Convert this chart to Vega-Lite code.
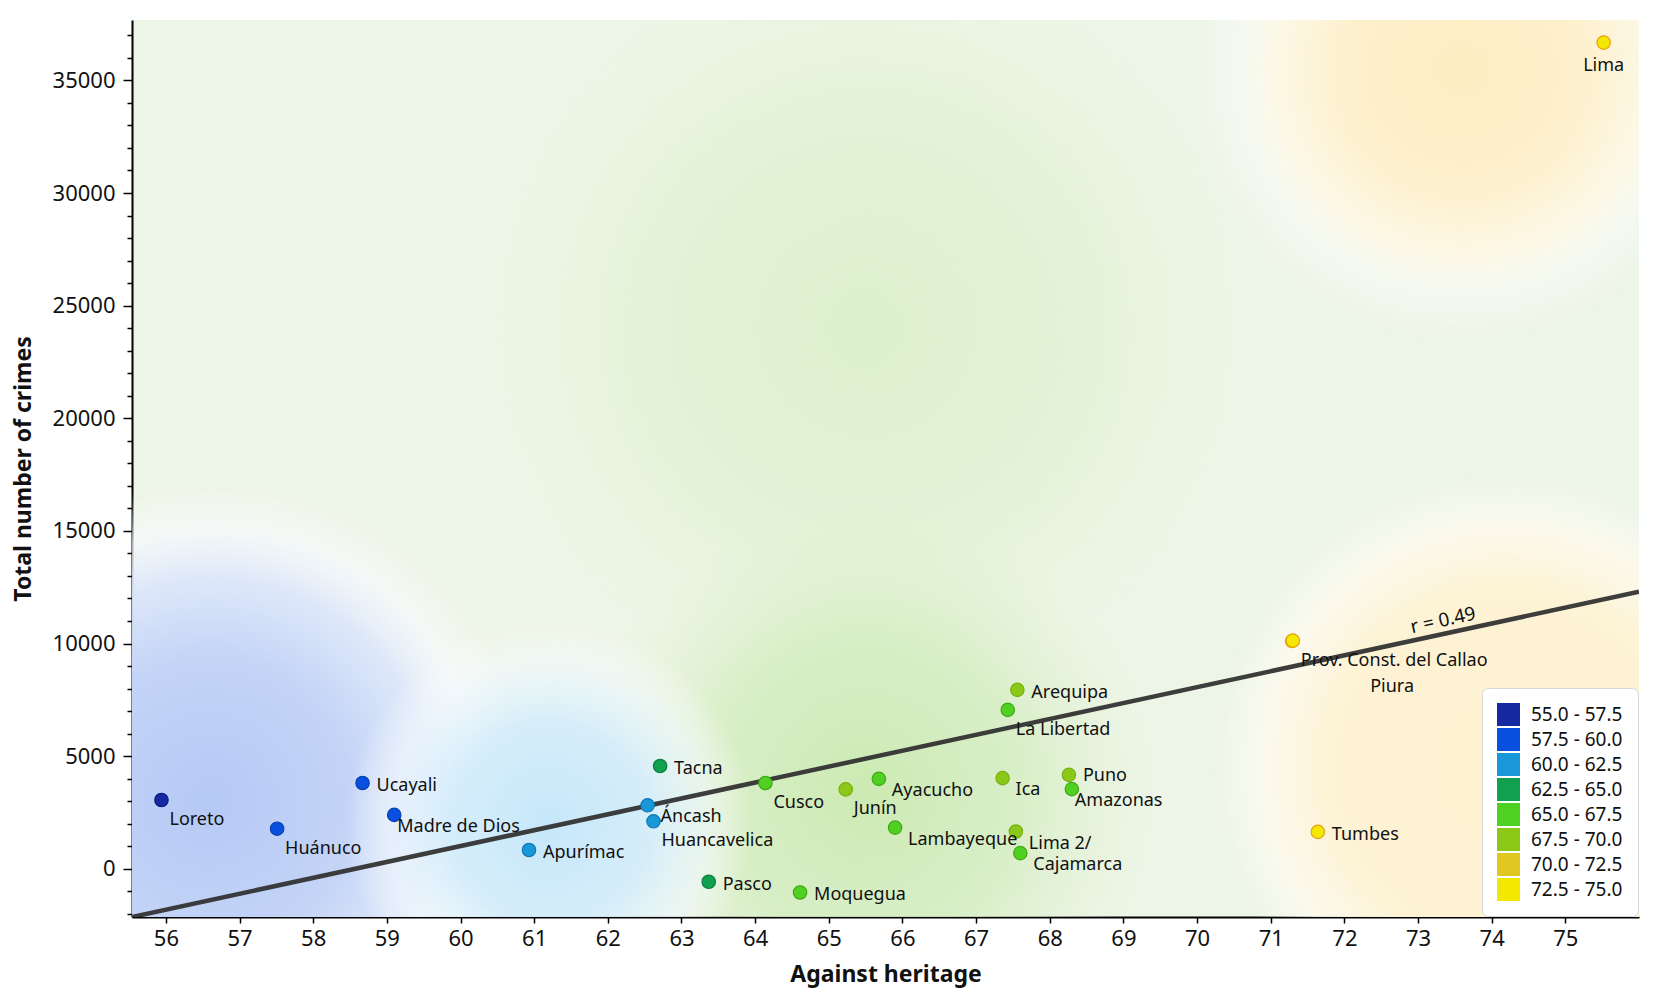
{
  "$schema": "https://vega.github.io/schema/vega-lite/v6.json",
  "width": 1507,
  "height": 897,
  "autosize": {"type": "none"},
  "padding": {"left": 132, "top": 20, "right": 26, "bottom": 91},
  "background": "#ffffff",
  "config": {
    "font": "Noto Sans",
    "view": {"stroke": null, "fill": "#edf5e6"},
    "axis": {
      "grid": false,
      "zindex": 1,
      "domainColor": "#000000",
      "domainWidth": 2,
      "tickColor": "#000000",
      "tickWidth": 1.5,
      "labelColor": "#111111",
      "titleColor": "#111111",
      "labelFontSize": 22,
      "titleFontSize": 23,
      "titleFontWeight": "bold"
    },
    "legend": {
      "orient": "bottom-right",
      "offset": 1,
      "padding": 15,
      "fillColor": "#ffffff",
      "strokeColor": "#d8d8d8",
      "cornerRadius": 6,
      "symbolType": "square",
      "symbolSize": 529,
      "symbolStrokeWidth": 0,
      "symbolOpacity": 1,
      "labelFontSize": 19,
      "labelOffset": 11,
      "labelColor": "#111111",
      "rowPadding": 2,
      "zindex": 2
    }
  },
  "datasets": {
    "regions": [
      {"region": "Loreto", "h": 55.94, "c": 3053, "band": "55.0 - 57.5"},
      {"region": "Huánuco", "h": 57.51, "c": 1780, "band": "57.5 - 60.0"},
      {"region": "Ucayali", "h": 58.67, "c": 3808, "band": "57.5 - 60.0"},
      {"region": "Madre de Dios", "h": 59.1, "c": 2392, "band": "57.5 - 60.0"},
      {"region": "Apurímac", "h": 60.93, "c": 834, "band": "60.0 - 62.5"},
      {"region": "Tacna", "h": 62.71, "c": 4562, "band": "62.5 - 65.0"},
      {"region": "Áncash", "h": 62.54, "c": 2818, "band": "60.0 - 62.5"},
      {"region": "Huancavelica", "h": 62.62, "c": 2108, "band": "60.0 - 62.5"},
      {"region": "Pasco", "h": 63.37, "c": -577, "band": "62.5 - 65.0"},
      {"region": "Cusco", "h": 64.14, "c": 3808, "band": "65.0 - 67.5"},
      {"region": "Junín", "h": 65.23, "c": 3524, "band": "67.5 - 70.0"},
      {"region": "Ayacucho", "h": 65.68, "c": 3994, "band": "65.0 - 67.5"},
      {"region": "Moquegua", "h": 64.61, "c": -1052, "band": "65.0 - 67.5"},
      {"region": "Lambayeque", "h": 65.9, "c": 1828, "band": "65.0 - 67.5"},
      {"region": "Ica", "h": 67.36, "c": 4025, "band": "67.5 - 70.0"},
      {"region": "Arequipa", "h": 67.56, "c": 7944, "band": "67.5 - 70.0"},
      {"region": "La Libertad", "h": 67.43, "c": 7056, "band": "65.0 - 67.5"},
      {"region": "Lima 2/", "h": 67.54, "c": 1655, "band": "67.5 - 70.0"},
      {"region": "Cajamarca", "h": 67.6, "c": 697, "band": "65.0 - 67.5"},
      {"region": "Puno", "h": 68.26, "c": 4171, "band": "67.5 - 70.0"},
      {"region": "Amazonas", "h": 68.3, "c": 3537, "band": "65.0 - 67.5"},
      {"region": "Piura", "h": 71.29, "c": 10110, "band": "72.5 - 75.0"},
      {"region": "Prov. Const. del Callao", "h": 71.3, "c": 10127, "band": "72.5 - 75.0"},
      {"region": "Tumbes", "h": 71.64, "c": 1638, "band": "72.5 - 75.0"},
      {"region": "Lima", "h": 75.52, "c": 36678, "band": "72.5 - 75.0"}
    ],
    "surface": [
      {"zone": "green high", "h": 65.5, "c": 24000},
      {"zone": "green low", "h": 65.5, "c": 3500},
      {"zone": "blue", "h": 56.6, "c": 3000},
      {"zone": "light blue", "h": 61.2, "c": 2000},
      {"zone": "yellow low", "h": 74.2, "c": 4500},
      {"zone": "yellow high", "h": 73.6, "c": 35500}
    ],
    "fit": [
      {"h": 55.54, "c": -2140},
      {"h": 76, "c": 12300}
    ]
  },
  "data": {"name": "regions"},
  "encoding": {
    "x": {
      "field": "h",
      "type": "quantitative",
      "title": "Against heritage",
      "scale": {"domain": [55.54, 76], "nice": false, "zero": false},
      "axis": {
        "values": [56, 57, 58, 59, 60, 61, 62, 63, 64, 65, 66, 67, 68, 69, 70, 71, 72, 73, 74, 75],
        "tickSize": 6,
        "labelPadding": 5,
        "titlePadding": 14,
        "labelFlush": false
      }
    },
    "y": {
      "field": "c",
      "type": "quantitative",
      "title": "Total number of crimes",
      "scale": {"domain": [-2140, 37680], "nice": false, "zero": false},
      "axis": {
        "values": [-2000, -1000, 0, 1000, 2000, 3000, 4000, 5000, 6000, 7000, 8000, 9000, 10000, 11000, 12000, 13000, 14000, 15000, 16000, 17000, 18000, 19000, 20000, 21000, 22000, 23000, 24000, 25000, 26000, 27000, 28000, 29000, 30000, 31000, 32000, 33000, 34000, 35000, 36000, 37000],
        "format": "d",
        "labelExpr": "datum.value % 5000 === 0 ? datum.label : ''",
        "tickSize": {"condition": {"test": "datum.value % 5000 === 0", "value": 9}, "value": 5},
        "labelOverlap": false,
        "labelFlush": false,
        "labelPadding": 8,
        "titlePadding": 17
      }
    }
  },
  "layer": [
    {
      "data": {"name": "surface"},
      "transform": [{"filter": {"field": "zone", "equal": "green high"}}],
      "mark": {"type": "point", "shape": "circle", "filled": true, "clip": true, "opacity": 1, "strokeWidth": 0, "size": 554000, "fill": {"gradient": "radial", "stops": [
        {"offset": 0, "color": "rgba(221,240,205,1)"},
        {"offset": 0.6, "color": "rgba(226,242,212,0.8)"},
        {"offset": 1, "color": "rgba(232,245,222,0)"}
      ]}}
    },
    {
      "data": {"name": "surface"},
      "transform": [{"filter": {"field": "zone", "equal": "green low"}}],
      "mark": {"type": "point", "shape": "circle", "filled": true, "clip": true, "opacity": 1, "strokeWidth": 0, "size": 330000, "fill": {"gradient": "radial", "stops": [
        {"offset": 0, "color": "rgba(204,234,178,1)"},
        {"offset": 0.55, "color": "rgba(212,237,192,0.8)"},
        {"offset": 1, "color": "rgba(225,242,210,0)"}
      ]}}
    },
    {
      "data": {"name": "surface"},
      "transform": [{"filter": {"field": "zone", "equal": "blue"}}],
      "mark": {"type": "point", "shape": "circle", "filled": true, "clip": true, "opacity": 1, "strokeWidth": 0, "size": 407000, "fill": {"gradient": "radial", "stops": [
        {"offset": 0, "color": "rgba(181,201,245,1)"},
        {"offset": 0.45, "color": "rgba(196,212,247,1)"},
        {"offset": 0.7, "color": "rgba(221,231,250,0.95)"},
        {"offset": 0.85, "color": "rgba(246,249,254,0.7)"},
        {"offset": 1, "color": "rgba(255,255,255,0)"}
      ]}}
    },
    {
      "data": {"name": "surface"},
      "transform": [{"filter": {"field": "zone", "equal": "light blue"}}],
      "mark": {"type": "point", "shape": "circle", "filled": true, "clip": true, "opacity": 1, "strokeWidth": 0, "size": 166000, "fill": {"gradient": "radial", "stops": [
        {"offset": 0, "color": "rgba(198,231,250,1)"},
        {"offset": 0.5, "color": "rgba(212,237,251,0.92)"},
        {"offset": 0.78, "color": "rgba(240,248,253,0.65)"},
        {"offset": 1, "color": "rgba(255,255,255,0)"}
      ]}}
    },
    {
      "data": {"name": "surface"},
      "transform": [{"filter": {"field": "zone", "equal": "yellow low"}}],
      "mark": {"type": "point", "shape": "circle", "filled": true, "clip": true, "opacity": 1, "strokeWidth": 0, "size": 342000, "fill": {"gradient": "radial", "stops": [
        {"offset": 0, "color": "rgba(253,241,206,1)"},
        {"offset": 0.62, "color": "rgba(253,243,213,1)"},
        {"offset": 0.82, "color": "rgba(255,250,237,0.8)"},
        {"offset": 1, "color": "rgba(255,255,255,0)"}
      ]}}
    },
    {
      "data": {"name": "surface"},
      "transform": [{"filter": {"field": "zone", "equal": "yellow high"}}],
      "mark": {"type": "point", "shape": "circle", "filled": true, "clip": true, "opacity": 1, "strokeWidth": 0, "size": 300000, "fill": {"gradient": "radial", "stops": [
        {"offset": 0, "color": "rgba(253,237,194,1)"},
        {"offset": 0.45, "color": "rgba(253,240,205,1)"},
        {"offset": 0.68, "color": "rgba(255,248,229,0.85)"},
        {"offset": 0.85, "color": "rgba(255,255,255,0.35)"},
        {"offset": 1, "color": "rgba(255,255,255,0)"}
      ]}}
    },
    {
      "data": {"name": "fit"},
      "mark": {"type": "line", "clip": true, "color": "#333333", "strokeWidth": 4.5, "opacity": 0.95},
      "encoding": {}
    },
    {
      "data": {"values": [{"h": 73.34, "c": 11030, "label": "r = 0.49"}]},
      "mark": {"type": "text", "angle": -12.2, "fontSize": 19, "color": "#111111", "baseline": "middle", "align": "center"},
      "encoding": {"text": {"field": "label"}}
    },
    {
      "mark": {"type": "circle", "size": 180, "opacity": 1, "strokeWidth": 1.2},
      "encoding": {
        "fill": {
          "field": "band",
          "type": "nominal",
          "scale": {
            "domain": ["55.0 - 57.5", "57.5 - 60.0", "60.0 - 62.5", "62.5 - 65.0", "65.0 - 67.5", "67.5 - 70.0", "70.0 - 72.5", "72.5 - 75.0"],
            "range": ["#1428a0", "#0a50e0", "#1898d8", "#10a050", "#50d020", "#8cc818", "#e0c820", "#f2e800"]
          },
          "legend": {"title": null}
        },
        "stroke": {
          "field": "band",
          "type": "nominal",
          "scale": {
            "domain": ["55.0 - 57.5", "57.5 - 60.0", "60.0 - 62.5", "62.5 - 65.0", "65.0 - 67.5", "67.5 - 70.0", "70.0 - 72.5", "72.5 - 75.0"],
            "range": ["#0c1a80", "#0840b0", "#1078b0", "#0a8040", "#40a818", "#78b010", "#d0a000", "#e8a010"]
          },
          "legend": null
        }
      }
    },
    {
      "transform": [{"filter": {"field": "region", "oneOf": ["Ucayali", "Apurímac", "Tacna", "Pasco", "Moquegua", "Arequipa", "Tumbes"]}}],
      "mark": {"type": "text", "align": "left", "baseline": "middle", "dx": 14, "dy": 3, "fontSize": 18, "color": "#111111"},
      "encoding": {"text": {"field": "region"}}
    },
    {
      "transform": [{"filter": {"field": "region", "equal": "Puno"}}],
      "mark": {"type": "text", "align": "left", "baseline": "middle", "dx": 14, "dy": 1, "fontSize": 18, "color": "#111111"},
      "encoding": {"text": {"field": "region"}}
    },
    {
      "transform": [{"filter": {"field": "region", "oneOf": ["Áncash", "Ayacucho", "Lambayeque", "Ica", "Lima 2/", "Cajamarca"]}}],
      "mark": {"type": "text", "align": "left", "baseline": "middle", "dx": 13, "dy": 12, "fontSize": 18, "color": "#111111"},
      "encoding": {"text": {"field": "region"}}
    },
    {
      "transform": [{"filter": {"field": "region", "oneOf": ["Madre de Dios", "Amazonas"]}}],
      "mark": {"type": "text", "align": "left", "baseline": "middle", "dx": 3, "dy": 12, "fontSize": 18, "color": "#111111"},
      "encoding": {"text": {"field": "region"}}
    },
    {
      "transform": [{"filter": {"field": "region", "oneOf": ["Loreto", "Huánuco", "Huancavelica", "Cusco", "Junín", "La Libertad", "Prov. Const. del Callao"]}}],
      "mark": {"type": "text", "align": "left", "baseline": "middle", "dx": 8, "dy": 20, "fontSize": 18, "color": "#111111"},
      "encoding": {"text": {"field": "region"}}
    },
    {
      "transform": [{"filter": {"field": "region", "equal": "Lima"}}],
      "mark": {"type": "text", "align": "center", "baseline": "middle", "dy": 23, "fontSize": 18, "color": "#111111"},
      "encoding": {"text": {"field": "region"}}
    },
    {
      "transform": [{"filter": {"field": "region", "equal": "Piura"}}],
      "mark": {"type": "text", "align": "center", "baseline": "middle", "dx": 100, "dy": 46, "fontSize": 18, "color": "#111111"},
      "encoding": {"text": {"field": "region"}}
    }
  ]
}
